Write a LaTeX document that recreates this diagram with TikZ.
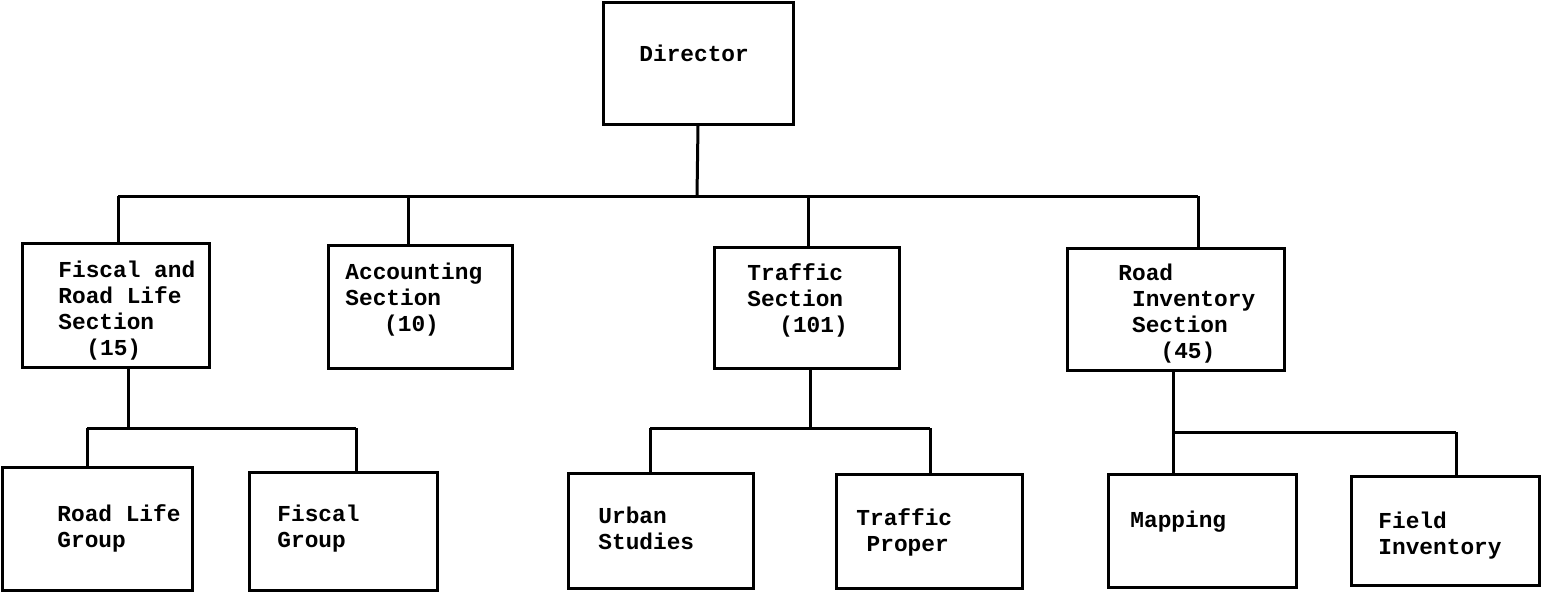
\documentclass[tikz,border=0pt]{standalone}
\usepackage{fontspec}
\setmonofont{Liberation Mono}
\begin{document}
\begin{tikzpicture}[x=0.5pt,y=-0.5pt,
  box/.style={draw,line width=1.5pt,rectangle,inner sep=0pt},
  lbl/.style={anchor=base west,inner sep=0pt,font=\ttfamily\bfseries\fontsize{11.4}{13}\selectfont,align=left},
  conn/.style={line width=1.5pt}]
\useasboundingbox (0,0) rectangle (1541,591);
% boxes
\node[box,minimum width=95pt,minimum height=61pt] (dir) at (698,63) {};
\node[box,minimum width=93.5pt,minimum height=62pt] (fis) at (115.5,305) {};
\node[box,minimum width=92pt,minimum height=61.5pt] (acc) at (420,306.5) {};
\node[box,minimum width=92.5pt,minimum height=60.5pt] (tra) at (806.5,307.5) {};
\node[box,minimum width=108.5pt,minimum height=61pt] (roa) at (1175.5,309) {};
\node[box,minimum width=95pt,minimum height=61.5pt] (rlg) at (97,528.5) {};
\node[box,minimum width=94pt,minimum height=59pt] (fgr) at (343,531) {};
\node[box,minimum width=92.5pt,minimum height=57.5pt] (urb) at (660.5,530.5) {};
\node[box,minimum width=93pt,minimum height=57pt] (tpr) at (929,531) {};
\node[box,minimum width=94pt,minimum height=56.5pt] (map) at (1202,530.5) {};
\node[box,minimum width=94pt,minimum height=54.5pt] (fin) at (1445,530.5) {};
% labels (anchor = baseline of last line)
\node[lbl] (tdir) at (639,61) {Director};
\node[lbl] (tfis) at (58,355) {Fiscal and\\Road Life\\Section\\\hspace*{1.23em}(15)};
\node[lbl] (tacc) at (345,331) {Accounting\\Section\\\hspace*{1.7em}(10)};
\node[lbl] (ttra) at (747,332) {Traffic\\Section\\\hspace*{1.4em}(101)};
\node[lbl] (troa) at (1118,358) {Road\\\hspace*{0.6em}Inventory\\\hspace*{0.6em}Section\\\hspace*{1.85em}(45)};
\node[lbl] (trlg) at (57,547) {Road Life\\Group};
\node[lbl] (tfgr) at (277,547) {Fiscal\\Group};
\node[lbl] (turb) at (598,549) {Urban\\Studies};
\node[lbl] (ttpr) at (856,551) {Traffic\\\hspace*{0.45em}Proper};
\node[lbl] (tmap) at (1130,527) {Mapping};
\node[lbl] (tfin) at (1378,554) {Field\\Inventory};
% junctions
\coordinate (j0) at (697,196);
\coordinate (jL) at (118,196);
\coordinate (jR) at (1198,196);
\coordinate (ja) at (408,196);
\coordinate (jt) at (808,196);
\coordinate (f0) at (128,428);
\coordinate (fL) at (87,428);
\coordinate (fR) at (356,428);
\coordinate (t0) at (810,428);
\coordinate (tL) at (650,428);
\coordinate (tR) at (930,428);
\coordinate (r0) at (1173,432);
\coordinate (rR) at (1456,432);
% connectors
\draw[conn] (dir.south) -- (j0);
\draw[conn] (jL) -- (jR);
\draw[conn] (jL) -- (jL |- fis.north);
\draw[conn] (ja) -- (ja |- acc.north);
\draw[conn] (jt) -- (jt |- tra.north);
\draw[conn] (jR) -- (jR |- roa.north);
\draw[conn] (f0 |- fis.south) -- (f0);
\draw[conn] (fL) -- (fR);
\draw[conn] (fL) -- (fL |- rlg.north);
\draw[conn] (fR) -- (fR |- fgr.north);
\draw[conn] (t0 |- tra.south) -- (t0);
\draw[conn] (tL) -- (tR);
\draw[conn] (tL) -- (tL |- urb.north);
\draw[conn] (tR) -- (tR |- tpr.north);
\draw[conn] (r0 |- roa.south) -- (r0);
\draw[conn] (r0) -- (rR);
\draw[conn] (r0) -- (r0 |- map.north);
\draw[conn] (rR) -- (rR |- fin.north);
\end{tikzpicture}
\end{document}
